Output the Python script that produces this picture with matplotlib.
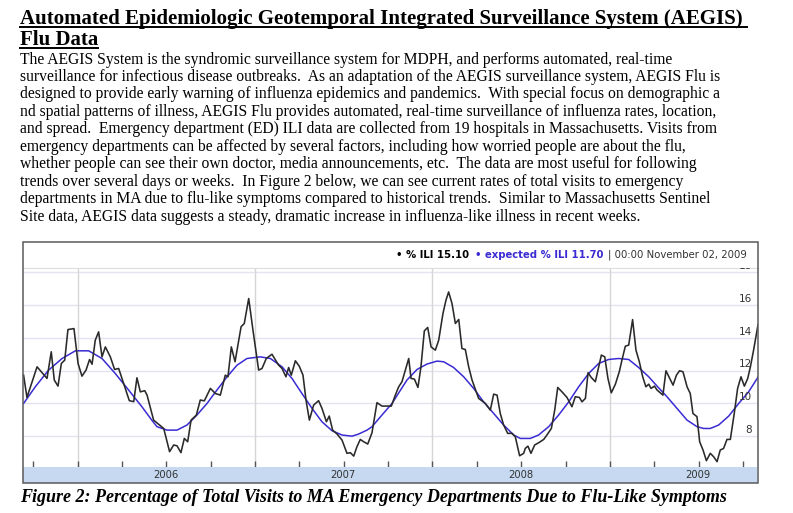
import matplotlib
matplotlib.use('Agg')
import numpy as np
import matplotlib.pyplot as plt
from matplotlib.lines import Line2D
from matplotlib.patches import Rectangle
import matplotlib.transforms as mtransforms

# ---------------- data ----------------
ili_t = [2005.695, 2005.714, 2005.771, 2005.827, 2005.851, 2005.868, 2005.889, 2005.908, 2005.927, 2005.945,
         2005.979, 2006.002, 2006.024, 2006.047, 2006.067, 2006.081, 2006.099, 2006.118, 2006.137, 2006.156,
         2006.184, 2006.208, 2006.231, 2006.259, 2006.291, 2006.316, 2006.334, 2006.353, 2006.378, 2006.391,
         2006.428, 2006.485, 2006.518, 2006.541, 2006.560, 2006.582, 2006.601, 2006.620, 2006.639, 2006.669,
         2006.691, 2006.714, 2006.748, 2006.776, 2006.804, 2006.832, 2006.847, 2006.866, 2006.887, 2006.921,
         2006.939, 2006.964, 2006.988, 2007.020, 2007.039, 2007.063, 2007.095, 2007.133, 2007.152, 2007.174,
         2007.189, 2007.204, 2007.227, 2007.249, 2007.270, 2007.287, 2007.306, 2007.330, 2007.358, 2007.377,
         2007.402, 2007.418, 2007.437, 2007.462, 2007.490, 2007.518, 2007.537, 2007.556, 2007.574, 2007.593,
         2007.612, 2007.635, 2007.659, 2007.687, 2007.715, 2007.768, 2007.787, 2007.809, 2007.828, 2007.847,
         2007.866, 2007.879, 2007.898, 2007.918, 2007.935, 2007.954, 2007.973, 2007.992, 2008.016, 2008.035,
         2008.059, 2008.076, 2008.091, 2008.110, 2008.129, 2008.148, 2008.166, 2008.185, 2008.204, 2008.223,
         2008.260, 2008.298, 2008.326, 2008.345, 2008.364, 2008.382, 2008.401, 2008.424, 2008.448, 2008.467,
         2008.491, 2008.514, 2008.523, 2008.538, 2008.555, 2008.576, 2008.602, 2008.627, 2008.645, 2008.670,
         2008.689, 2008.706, 2008.730, 2008.758, 2008.786, 2008.805, 2008.828, 2008.843, 2008.862, 2008.877,
         2008.895, 2008.918, 2008.952, 2008.971, 2008.989, 2009.008, 2009.031, 2009.053, 2009.068, 2009.087,
         2009.106, 2009.128, 2009.147, 2009.166, 2009.185, 2009.203, 2009.219, 2009.232, 2009.251, 2009.266,
         2009.299, 2009.316, 2009.337, 2009.356, 2009.375, 2009.393, 2009.412, 2009.435, 2009.453, 2009.468,
         2009.491, 2009.506, 2009.525, 2009.544, 2009.566, 2009.585, 2009.604, 2009.622, 2009.641, 2009.660,
         2009.679, 2009.701, 2009.720, 2009.739, 2009.758, 2009.777, 2009.792, 2009.810, 2009.835]
ili_v = [11.72, 10.36, 12.23, 11.52, 13.15, 11.42, 11.05, 12.44, 12.64, 14.51,
         14.57, 12.44, 11.66, 12.03, 12.68, 12.39, 13.86, 14.37, 12.84, 13.45,
         12.84, 12.07, 12.13, 11.21, 10.16, 10.10, 11.56, 10.70, 10.77, 10.50,
         8.97, 8.46, 7.04, 7.45, 7.40, 6.98, 7.85, 7.65, 8.97, 9.28,
         10.20, 10.15, 10.91, 10.60, 10.50, 11.72, 11.62, 13.45, 12.54, 14.68,
         14.88, 16.41, 14.47, 12.03, 12.13, 12.74, 13.00, 12.33, 12.13, 11.62,
         12.19, 11.72, 12.60, 12.27, 11.72, 10.20, 8.97, 9.89, 10.16, 9.69,
         8.87, 9.22, 8.36, 8.12, 7.75, 6.94, 6.98, 6.77, 7.34, 7.79,
         7.65, 7.51, 8.20, 10.04, 9.83, 9.83, 10.40, 11.00, 11.32, 12.03,
         12.74, 11.52, 11.48, 10.97, 12.23, 14.43, 14.64, 13.45, 13.25, 13.86,
         15.49, 16.31, 16.81, 16.10, 14.88, 15.13, 13.35, 13.29, 12.23, 11.42,
         10.30, 9.99, 9.58, 10.56, 10.50, 9.38, 8.67, 8.16, 8.16, 7.95,
         6.79, 6.94, 7.24, 7.38, 6.94, 7.45, 7.61, 7.79, 8.06, 8.46,
         9.58, 10.97, 10.70, 10.36, 9.79, 10.40, 10.36, 10.09, 10.30, 11.87,
         11.58, 11.32, 12.95, 12.84, 11.52, 10.64, 11.17, 11.93, 12.64, 13.49,
         13.56, 15.12, 13.25, 12.54, 11.62, 11.01, 11.17, 10.91, 11.05, 10.81,
         10.50, 11.99, 11.52, 11.11, 11.72, 11.99, 11.93, 11.01, 10.60, 9.38,
         9.18, 7.65, 7.14, 6.49, 6.94, 6.73, 6.43, 7.14, 7.24, 7.79,
         7.79, 9.38, 10.91, 11.62, 11.05, 11.52, 12.23, 13.25, 14.80]

exp_t = [2005.695, 2005.761, 2005.836, 2005.912, 2005.987, 2006.062, 2006.137, 2006.212, 2006.287, 2006.362,
         2006.419, 2006.447, 2006.503, 2006.560, 2006.616, 2006.672, 2006.729, 2006.785, 2006.842, 2006.898,
         2006.954, 2007.029, 2007.086, 2007.152, 2007.208, 2007.264, 2007.321, 2007.377, 2007.434, 2007.490,
         2007.546, 2007.584, 2007.631, 2007.659, 2007.715, 2007.772, 2007.828, 2007.856, 2007.913, 2007.969,
         2008.025, 2008.063, 2008.119, 2008.176, 2008.232, 2008.288, 2008.345, 2008.401, 2008.458, 2008.495,
         2008.551, 2008.598, 2008.655, 2008.711, 2008.768, 2008.824, 2008.880, 2008.937, 2008.993, 2009.049,
         2009.106, 2009.162, 2009.219, 2009.266, 2009.322, 2009.378, 2009.435, 2009.491, 2009.529, 2009.566,
         2009.613, 2009.670, 2009.726, 2009.782, 2009.835]
exp_v = [9.99, 11.01, 12.03, 12.74, 13.21, 13.21, 12.74, 11.82, 10.81, 9.79,
         8.95, 8.57, 8.36, 8.36, 8.67, 9.28, 9.99, 10.81, 11.62, 12.33,
         12.74, 12.84, 12.74, 12.23, 11.52, 10.60, 9.69, 8.87, 8.32, 8.06,
         7.99, 8.12, 8.36, 8.57, 9.28, 9.99, 10.95, 11.42, 12.07, 12.40,
         12.58, 12.54, 12.19, 11.62, 10.91, 10.09, 9.38, 8.67, 8.06, 7.85,
         7.85, 8.06, 8.57, 9.28, 10.09, 11.01, 11.82, 12.44, 12.68, 12.74,
         12.68, 12.19, 11.62, 11.05, 10.40, 9.69, 8.97, 8.57, 8.46, 8.46,
         8.67, 9.22, 9.99, 10.70, 11.60]

year_labels = ['2006', '2007', '2008', '2009']
y_labels = ['8', '10', '12', '14', '16', '18']
latest_ili = '15.10'
latest_expected = '11.70'
latest_stamp = '00:00 November 02, 2009'

title_lines = ['Automated Epidemiologic Geotemporal Integrated Surveillance System (AEGIS)',
               'Flu Data']
body_lines = [
    'The AEGIS System is the syndromic surveillance system for MDPH, and performs automated, real-time',
    'surveillance for infectious disease outbreaks.  As an adaptation of the AEGIS surveillance system, AEGIS Flu is',
    'designed to provide early warning of influenza epidemics and pandemics.  With special focus on demographic a',
    'nd spatial patterns of illness, AEGIS Flu provides automated, real-time surveillance of influenza rates, location,',
    'and spread.  Emergency department (ED) ILI data are collected from 19 hospitals in Massachusetts. Visits from',
    'emergency departments can be affected by several factors, including how worried people are about the flu,',
    'whether people can see their own doctor, media announcements, etc.  The data are most useful for following',
    'trends over several days or weeks.  In Figure 2 below, we can see current rates of total visits to emergency',
    'departments in MA due to flu-like symptoms compared to historical trends.  Similar to Massachusetts Sentinel',
    'Site data, AEGIS data suggests a steady, dramatic increase in influenza-like illness in recent weeks.',
]
caption = 'Figure 2: Percentage of Total Visits to MA Emergency Departments Due to Flu-Like Symptoms'

# ---------------- layout ----------------
W, H = 793, 513
fig = plt.figure(figsize=(W / 100, H / 100), dpi=100)
fig.patch.set_facecolor('white')
renderer = fig.canvas.get_renderer()
SERIF = 'Liberation Serif'
SANS = 'DejaVu Sans'
BLUE = '#3a2bd2'


def fx(x):
    return x / W


def fy(y):
    return 1 - y / H


def fit(t, target):
    w = t.get_window_extent(renderer).width
    t.set_fontsize(t.get_fontsize() * target / w)


def underline(t, extra=0):
    bb = t.get_window_extent(renderer)
    x0, x1 = bb.x0, bb.x1 + extra
    yb = t.get_position()[1] * H - 2.6
    fig.add_artist(Line2D([x0 / W, x1 / W], [yb / H, yb / H], color='black', lw=1.4,
                          transform=fig.transFigure))


# title
t1 = fig.text(fx(20), fy(24), title_lines[0], fontsize=15, fontweight='bold', family=SERIF)
fit(t1, 724)
t2 = fig.text(fx(20), fy(45), title_lines[1], fontsize=t1.get_fontsize(), fontweight='bold', family=SERIF)
underline(t1, extra=4)
underline(t2)

# body
probe = fig.text(0, 0, body_lines[3], fontsize=10, family=SERIF)
fit(probe, 700)
bfs = probe.get_fontsize()
probe.remove()
for i, line in enumerate(body_lines):
    fig.text(fx(20), fy(63.5 + 17.45 * i), line, fontsize=bfs, family=SERIF)

# caption
cp = fig.text(fx(20), fy(502), caption, fontsize=12, fontweight='bold', style='italic', family=SERIF)
fit(cp, 708)

# chart outer frame
fig.add_artist(Rectangle((fx(23), fy(482.7)), fx(758) - fx(23), (482.7 - 242) / H,
                         transform=fig.transFigure, fill=False, edgecolor='#5a5a5a', lw=1.1, zorder=5))

# header legend (right aligned)
xr = 747
yh = fy(255)
pieces = [('| ' + latest_stamp, 'normal', '#333333'),
          ('\u2022 expected % ILI ' + latest_expected, 'bold', BLUE),
          ('\u2022 % ILI ' + latest_ili, 'bold', 'black')]
for txt, wt, col in pieces:
    t = fig.text(fx(xr), yh, txt, ha='right', va='center', fontsize=7.3, fontweight=wt,
                 color=col, family=SANS)
    bb = t.get_window_extent(renderer)
    xr = bb.x0 - 5

# main plot
ax = fig.add_axes([fx(23), fy(466.7), fx(758) - fx(23), (466.7 - 268) / H])
ax.set_xlim(2005.6917, 2009.8349)
ax.set_ylim(6.122, 18.275)
for s in ['left', 'right', 'bottom']:
    ax.spines[s].set_visible(False)
ax.spines['top'].set_color('#dddddd')
ax.spines['top'].set_linewidth(0.8)

for lab in y_labels:
    ax.axhline(float(lab), color='#e3e3f1', lw=1.0, zorder=1)
for yr in year_labels:
    ax.axvline(float(yr), color='#d6d6d6', lw=1.0, zorder=1)

ax.plot(exp_t, exp_v, color=BLUE, lw=1.1, zorder=3, solid_joinstyle='round')
ax.plot(ili_t, ili_v, color='#2a2a2a', lw=1.15, zorder=4, solid_joinstyle='round')

ax.set_xticks(np.arange(2005.75, 2009.8, 0.25))
ax.set_yticks([])
ax.tick_params(axis='x', direction='in', length=4, width=1, color='#555555', labelbottom=False)

lab_tr = mtransforms.offset_copy(ax.get_yaxis_transform(), fig=fig, x=0, y=1.0, units='points')
for lab in y_labels:
    ax.text(0.992, float(lab), lab, transform=lab_tr, ha='right', va='bottom', fontsize=7.5,
            color='#333333', family=SANS, clip_on=True, zorder=6)

# date band
bax = fig.add_axes([fx(23), fy(482.7), fx(757) - fx(23), (482.7 - 466.7) / H])
bax.set_facecolor('#c6d9f1')
bax.set_xlim(ax.get_xlim())
bax.set_ylim(0, 1)
bax.set_xticks([])
bax.set_yticks([])
for s in bax.spines.values():
    s.set_visible(False)
for yr in year_labels:
    bax.text(float(yr) + 0.5, 0.5, yr, ha='center', va='center', fontsize=7.2,
             color='#333333', family=SANS)

fig.savefig('out.png', dpi=100)
